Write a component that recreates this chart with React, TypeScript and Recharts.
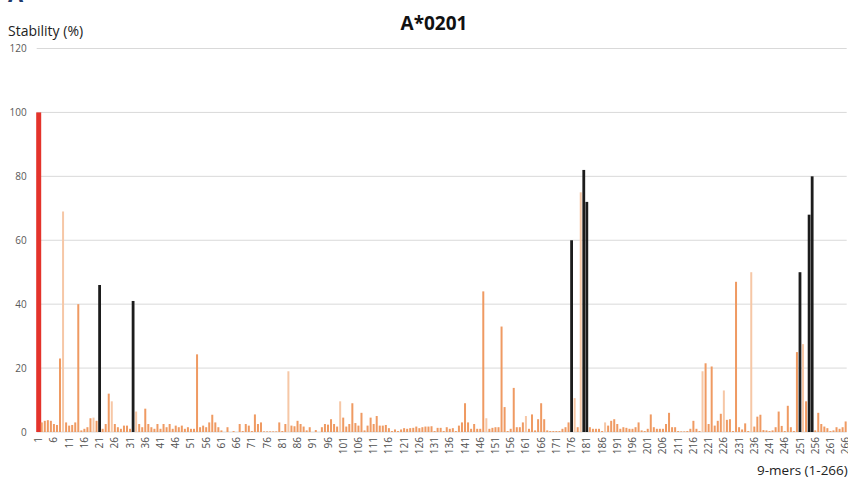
import { BarChart, Bar, XAxis, YAxis, CartesianGrid } from "recharts";

// Stability (%) for each 9-mer, positions 1..266
const stability = [
  100, 3, 3.5, 3.7, 3.5, 2.5, 2.2, 23, 69, 3, 2, 2.2, 3, 40, 0.5, 1, 1.5, 4.3, 4.5, 3.5,
  46, 1, 2.5, 12, 9.6, 2.5, 1.5, 1, 2, 2, 1, 41, 6.4, 2.5, 1.5, 7.3, 2.5, 1.5, 1, 2.5,
  1, 2.5, 1.5, 2.5, 1, 2, 1.5, 2, 1, 1.5, 1, 1, 24.3, 1.5, 2, 1.5, 3, 5.4, 3, 1.5,
  0.5, 0, 1.5, 0, 0.3, 0, 2.5, 0.3, 2.5, 2, 0.3, 5.5, 2.5, 3, 0.2, 0.2, 0.2, 0.2, 0.2, 3,
  0.3, 2.5, 19, 2, 1.8, 3.5, 2.5, 1.7, 0.5, 1.5, 0, 0.6, 0, 1.5, 2.5, 2.3, 4, 2.5, 1.7, 9.6,
  4.5, 1.7, 2.5, 9, 2.8, 2, 6, 0.5, 2, 4.5, 2.5, 5, 2, 2, 2.2, 1.2, 0.3, 0.8, 0.3, 0.8,
  1.2, 1, 1.2, 1.3, 1.7, 1.2, 1.5, 1.7, 1.7, 1.8, 0.3, 1.3, 1.3, 0.3, 1.5, 1, 1.2, 0.3, 2, 3,
  9, 3, 1, 2.5, 1, 1, 44, 4.3, 1, 1.3, 1.5, 1.5, 33, 7.8, 0.3, 1, 13.8, 1.5, 1.5, 3,
  5, 1, 5.5, 0.5, 4, 9, 4, 0.5, 0.3, 0.3, 0.3, 0.3, 1, 1.5, 3, 60, 10.6, 1.5, 75, 82,
  72, 1.5, 1, 1, 1, 0.3, 3, 2, 3.5, 4, 2.5, 1, 1.5, 1.3, 1, 1, 1.5, 3, 0.5, 0.3,
  1, 5.5, 1.5, 1, 1, 1, 2.5, 6, 1.5, 1.5, 0.3, 0.2, 0.2, 0.3, 1, 3.5, 1, 0.3, 19, 21.5,
  2.5, 20.5, 2, 3.5, 5.7, 13, 3.8, 4, 0.3, 47, 1.5, 0.8, 2.7, 0.3, 50, 1.7, 4.8, 5.4, 0.6, 0.5,
  0.3, 0.5, 1.5, 6.4, 1.9, 0.3, 8.2, 1.5, 0.3, 25, 50, 27.5, 9.6, 68, 80, 0.5, 6, 2.5, 1.7, 1.2,
  0.3, 0.5, 1.5, 1, 1.5, 3.3,
];

// groups of positions
const referencePos = [1];
const blackPos = [21, 32, 176, 180, 181, 251, 254, 255];
const lightPos = [9, 19, 25, 33, 83, 100, 148, 161, 177, 179, 187, 219, 226, 235, 252];

const yTicks = [0, 20, 40, 60, 80, 100, 120];

const data = stability.map((v, i) => ({ pos: String(i + 1), value: v }));

const ORANGE = "#ef9a62";
const LIGHT = "#f6c7a6";
const BLACK = "#1c1c1c";
const RED = "#e4332b";
const FONT = "'Open Sans', sans-serif";

const BarShape = (props: any) => {
  const { x, y, width, height, payload } = props;
  const p = Number(payload.pos);
  let fill = ORANGE;
  let w = width;
  if (referencePos.includes(p)) {
    fill = RED;
    w = 5;
  } else if (blackPos.includes(p)) {
    fill = BLACK;
    w = 2.8;
  } else if (lightPos.includes(p)) {
    fill = LIGHT;
  }
  const cx = x + width / 2;
  return <rect x={cx - w / 2} y={y} width={w} height={Math.max(height, 0)} fill={fill} />;
};

const XTick = (props: any) => {
  const { x, y, payload } = props;
  return (
    <text
      x={x}
      y={y}
      transform={`rotate(-90, ${x}, ${y})`}
      textAnchor="end"
      dominantBaseline="central"
      fontSize={10}
      fontFamily={FONT}
      fill="#505050"
    >
      {payload.value}
    </text>
  );
};

export default function App() {
  return (
    <div style={{ position: "absolute", left: 0, top: 0, width: 848, height: 481, background: "#fff", overflow: "hidden", fontFamily: FONT }}>
      <div style={{ position: "absolute", left: 8, top: -18, fontSize: 22, fontWeight: 700, color: "#1f3a6e", lineHeight: "22px" }}>A</div>
      <div style={{ position: "absolute", left: 0, width: 868, top: 10, textAlign: "center", fontSize: 19, fontWeight: 700, color: "#111", lineHeight: "26px" }}>
        A*0201
      </div>
      <div style={{ position: "absolute", left: 8, top: 22, fontSize: 14, color: "#222", lineHeight: "18px" }}>Stability (%)</div>
      <div style={{ position: "absolute", left: 757, top: 461, fontSize: 13.5, color: "#222", lineHeight: "18px", whiteSpace: "nowrap" }}>
        9-mers (1-266)
      </div>
      <BarChart
        width={848}
        height={481}
        data={data}
        margin={{ top: 48.5, right: 1.3, bottom: 0, left: 0 }}
        barCategoryGap={0}
      >
        <CartesianGrid vertical={false} stroke="#d9d9d9" />
        <XAxis
          dataKey="pos"
          interval={4}
          height={49}
          tickSize={0}
          tickMargin={5}
          axisLine={false}
          tickLine={false}
          tick={<XTick />}
        />
        <YAxis
          domain={[0, 120]}
          ticks={yTicks}
          width={36.7}
          axisLine={false}
          tickLine={false}
          tickSize={0}
          tickMargin={10}
          tick={{ fontSize: 10, fill: "#595959", fontFamily: FONT }}
        />
        <Bar dataKey="value" barSize={2} shape={<BarShape />} isAnimationActive={false} />
      </BarChart>
    </div>
  );
}
